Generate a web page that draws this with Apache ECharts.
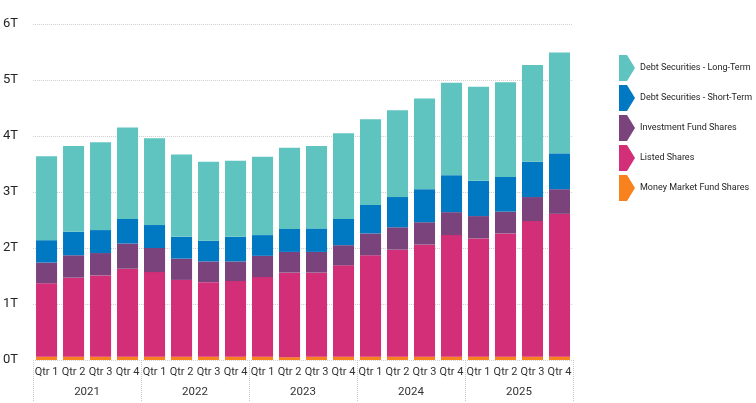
<!DOCTYPE html>
<html>
<head>
<meta charset="utf-8">
<script src="https://cdn.jsdelivr.net/npm/echarts@6/dist/echarts.min.js"></script>
<style>
html,body{margin:0;padding:0;background:#fff;}
#chart{width:756px;height:403px;}
</style>
</head>
<body>
<div id="chart"></div>
<script>
var quarters = ['Qtr 1','Qtr 2','Qtr 3','Qtr 4','Qtr 1','Qtr 2','Qtr 3','Qtr 4','Qtr 1','Qtr 2','Qtr 3','Qtr 4','Qtr 1','Qtr 2','Qtr 3','Qtr 4','Qtr 1','Qtr 2','Qtr 3','Qtr 4'];
var years = ['2021','2022','2023','2024','2025'];
var yTicks = [0,1,2,3,4,5,6];
var moneyMarket   = [0.06,0.06,0.06,0.06,0.06,0.06,0.06,0.06,0.06,0.05,0.06,0.06,0.06,0.06,0.06,0.06,0.06,0.06,0.06,0.06];
var listedShares  = [1.31,1.41,1.45,1.57,1.51,1.37,1.33,1.35,1.42,1.51,1.50,1.63,1.81,1.91,2.00,2.17,2.11,2.20,2.42,2.55];
var investFund    = [0.37,0.40,0.40,0.45,0.43,0.38,0.37,0.35,0.38,0.37,0.37,0.36,0.39,0.40,0.40,0.41,0.40,0.39,0.43,0.44];
var debtShort     = [0.40,0.42,0.41,0.44,0.41,0.39,0.37,0.44,0.37,0.41,0.42,0.47,0.51,0.54,0.59,0.66,0.63,0.62,0.63,0.64];
var debtLong      = [1.50,1.53,1.57,1.63,1.55,1.47,1.41,1.36,1.40,1.45,1.47,1.53,1.53,1.55,1.62,1.65,1.68,1.69,1.73,1.80];
var seriesNames = ['Debt Securities - Long-Term','Debt Securities - Short-Term','Investment Fund Shares','Listed Shares','Money Market Fund Shares'];

var FONT = 'Roboto, "Liberation Sans", sans-serif';
var colors = {
  'Debt Securities - Long-Term':'#5FC4C0',
  'Debt Securities - Short-Term':'#0078C2',
  'Investment Fund Shares':'#7B437C',
  'Listed Shares':'#D32E78',
  'Money Market Fund Shares':'#F7821E'
};
var icon = 'path://M0,0 L8,0 L16,13 L8,26 L0,26 Z';

function mk(name, data){
  return {
    name:name, type:'bar', stack:'total', data:data,
    barCategoryGap:'22%',
    itemStyle:{color:colors[name]},
    emphasis:{disabled:true}
  };
}

var chart = echarts.init(document.getElementById('chart'));
chart.setOption({
  animation:false,
  textStyle:{fontFamily:FONT},
  grid:{left:32, right:183, top:24, bottom:43},
  legend:{
    orient:'vertical', left:614, top:50,
    icon:icon, itemWidth:16, itemHeight:26, itemGap:4,
    data:seriesNames,
    textStyle:{fontSize:9, color:'#252423', fontFamily:FONT},
    selectedMode:false
  },
  xAxis:[{
    type:'category', data:quarters,
    axisLine:{show:false}, axisTick:{show:false},
    axisLabel:{interval:0, margin:7, fontSize:11, color:'#333', fontFamily:FONT}
  },{
    type:'category', data:years, position:'bottom', offset:0,
    axisLine:{show:false},
    axisTick:{show:true, length:42, lineStyle:{type:'dotted', color:'#c8c8c8'}},
    axisLabel:{interval:0, margin:26, fontSize:11.5, color:'#333', fontFamily:FONT}
  }],
  yAxis:{
    type:'value', min:yTicks[0], max:yTicks[yTicks.length-1], interval:1,
    axisLine:{show:false}, axisTick:{show:false},
    axisLabel:{margin:15, fontSize:13, color:'#252423', fontFamily:FONT, formatter:'{value}T'},
    splitLine:{lineStyle:{type:'dotted', color:'#cfcfcf'}}
  },
  series:[
    mk('Money Market Fund Shares', moneyMarket),
    mk('Listed Shares', listedShares),
    mk('Investment Fund Shares', investFund),
    mk('Debt Securities - Short-Term', debtShort),
    mk('Debt Securities - Long-Term', debtLong)
  ]
});
</script>
</body>
</html>
